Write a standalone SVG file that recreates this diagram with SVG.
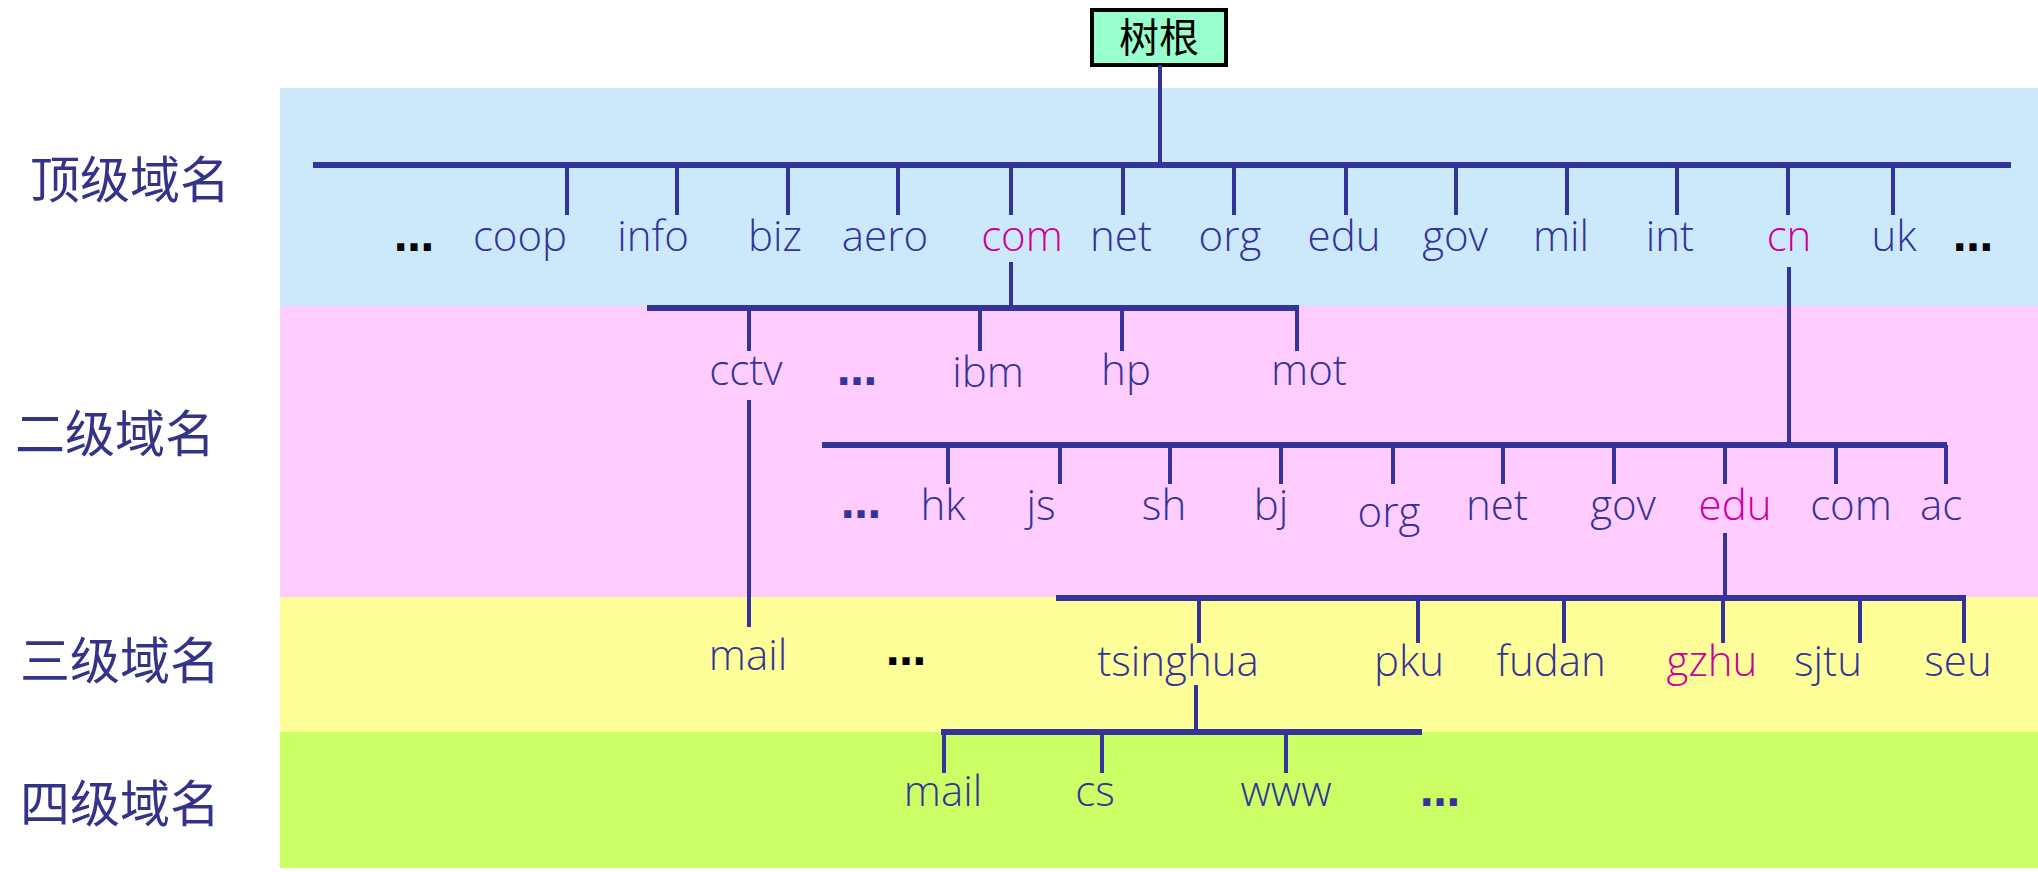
<svg xmlns="http://www.w3.org/2000/svg" width="2038" height="872" viewBox="0 0 2038 872">
<style>
.l{font-family:"Open Sans","Noto Sans",sans-serif;font-weight:300;font-size:42px;fill:#333399;text-anchor:middle}
.m{fill:#cc0099}
.d{font-family:"DejaVu Sans",sans-serif;font-weight:bold;font-size:40px;fill:#000;text-anchor:middle}
.dd{fill:#333399}
.z{font-family:"Noto Sans CJK SC",sans-serif;font-size:50px;fill:#333388;text-anchor:middle}
#conn line{stroke:#333399;stroke-width:4}
#conn .b{stroke-width:6}
</style>
<rect x="280" y="88" width="1758" height="218" fill="#cce9fc"/>
<rect x="280" y="306" width="1758" height="291" fill="#ffccff"/>
<rect x="280" y="597" width="1758" height="135" fill="#ffff99"/>
<rect x="280" y="732" width="1758" height="136" fill="#ccff66"/>
<g id="levels">
<text class="z" x="130" y="198">顶级域名</text>
<text class="z" x="115" y="452">二级域名</text>
<text class="z" x="120" y="679">三级域名</text>
<text class="z" x="120" y="822">四级域名</text>
</g>
<g id="root"><rect x="1092" y="10" width="134" height="55" fill="#99ffcc" stroke="#000" stroke-width="4"/>
<text x="1159" y="52" font-family="Noto Sans CJK SC,sans-serif" font-size="40" text-anchor="middle" fill="#000">树根</text></g>
<g id="conn">
<line x1="1160" y1="65" x2="1160" y2="165"/>
<line class="b" x1="313" y1="165" x2="2011" y2="165"/>
<line x1="567" y1="165" x2="567" y2="215"/><line x1="677" y1="165" x2="677" y2="215"/><line x1="788" y1="165" x2="788" y2="215"/><line x1="898" y1="165" x2="898" y2="215"/><line x1="1011" y1="165" x2="1011" y2="215"/><line x1="1123" y1="165" x2="1123" y2="215"/><line x1="1234" y1="165" x2="1234" y2="215"/><line x1="1346" y1="165" x2="1346" y2="215"/><line x1="1456" y1="165" x2="1456" y2="215"/><line x1="1567" y1="165" x2="1567" y2="215"/><line x1="1677" y1="165" x2="1677" y2="215"/><line x1="1788" y1="165" x2="1788" y2="215"/><line x1="1893" y1="165" x2="1893" y2="215"/>
<line x1="1011" y1="262" x2="1011" y2="308"/>
<line class="b" x1="647" y1="308" x2="1299" y2="308"/>
<line x1="749" y1="308" x2="749" y2="351"/><line x1="980" y1="308" x2="980" y2="351"/><line x1="1122" y1="308" x2="1122" y2="351"/><line x1="1297" y1="308" x2="1297" y2="351"/>
<line x1="749" y1="400" x2="749" y2="627"/>
<line x1="1789" y1="267" x2="1789" y2="445"/>
<line class="b" x1="822" y1="445" x2="1947" y2="445"/>
<line x1="948" y1="445" x2="948" y2="484"/><line x1="1060" y1="445" x2="1060" y2="484"/><line x1="1170" y1="445" x2="1170" y2="484"/><line x1="1281" y1="445" x2="1281" y2="484"/><line x1="1393" y1="445" x2="1393" y2="484"/><line x1="1503" y1="445" x2="1503" y2="484"/><line x1="1614" y1="445" x2="1614" y2="484"/><line x1="1725" y1="445" x2="1725" y2="484"/><line x1="1836" y1="445" x2="1836" y2="484"/><line x1="1946" y1="445" x2="1946" y2="484"/>
<line x1="1725" y1="533" x2="1725" y2="598"/>
<line class="b" x1="1056" y1="598" x2="1966" y2="598"/>
<line x1="1199" y1="598" x2="1199" y2="643"/><line x1="1418" y1="598" x2="1418" y2="643"/><line x1="1564" y1="598" x2="1564" y2="643"/><line x1="1723" y1="598" x2="1723" y2="643"/><line x1="1860" y1="598" x2="1860" y2="643"/><line x1="1964" y1="598" x2="1964" y2="643"/>
<line x1="1196" y1="685" x2="1196" y2="732"/>
<line class="b" x1="941" y1="732" x2="1422" y2="732"/>
<line x1="944" y1="732" x2="944" y2="773"/><line x1="1102" y1="732" x2="1102" y2="773"/><line x1="1286" y1="732" x2="1286" y2="773"/>
</g>
<g id="tld">
<text class="d" x="414" y="251">…</text>
<text class="l" x="520" y="251">coop</text><text class="l" x="653" y="251">info</text><text class="l" x="775" y="251">biz</text><text class="l" x="885" y="251">aero</text><text class="l m" x="1022" y="251">com</text><text class="l" x="1121" y="251">net</text><text class="l" x="1230" y="251">org</text><text class="l" x="1344" y="251">edu</text><text class="l" x="1455" y="251">gov</text><text class="l" x="1561" y="251">mil</text><text class="l" x="1670" y="251">int</text><text class="l m" x="1789" y="251">cn</text><text class="l" x="1894" y="251">uk</text>
<text class="d" x="1973" y="251">…</text>
</g>
<g id="sld">
<text class="l" x="746" y="385">cctv</text><text class="d dd" x="857" y="385">…</text><text class="l" x="988" y="387">ibm</text><text class="l" x="1126" y="385">hp</text><text class="l" x="1309" y="385">mot</text>
<text class="d dd" x="861" y="518">…</text>
<text class="l" x="943" y="520">hk</text><text class="l" x="1041" y="520">js</text><text class="l" x="1164" y="520">sh</text><text class="l" x="1271" y="520">bj</text><text class="l" x="1389" y="527">org</text><text class="l" x="1497" y="520">net</text><text class="l" x="1623" y="520">gov</text><text class="l m" x="1735" y="520">edu</text><text class="l" x="1851" y="520">com</text><text class="l" x="1941" y="520">ac</text>
</g>
<g id="third">
<text class="l" x="748" y="670">mail</text><text class="d" x="906" y="665">…</text>
<text class="l" x="1178" y="676">tsinghua</text><text class="l" x="1409" y="676">pku</text><text class="l" x="1551" y="676">fudan</text><text class="l m" x="1712" y="676">gzhu</text><text class="l" x="1828" y="676">sjtu</text><text class="l" x="1958" y="676">seu</text>
</g>
<g id="fourth">
<text class="l" x="943" y="806">mail</text><text class="l" x="1095" y="806">cs</text><text class="l" x="1286" y="806">www</text><text class="d dd" x="1440" y="806">…</text>
</g>
</svg>
